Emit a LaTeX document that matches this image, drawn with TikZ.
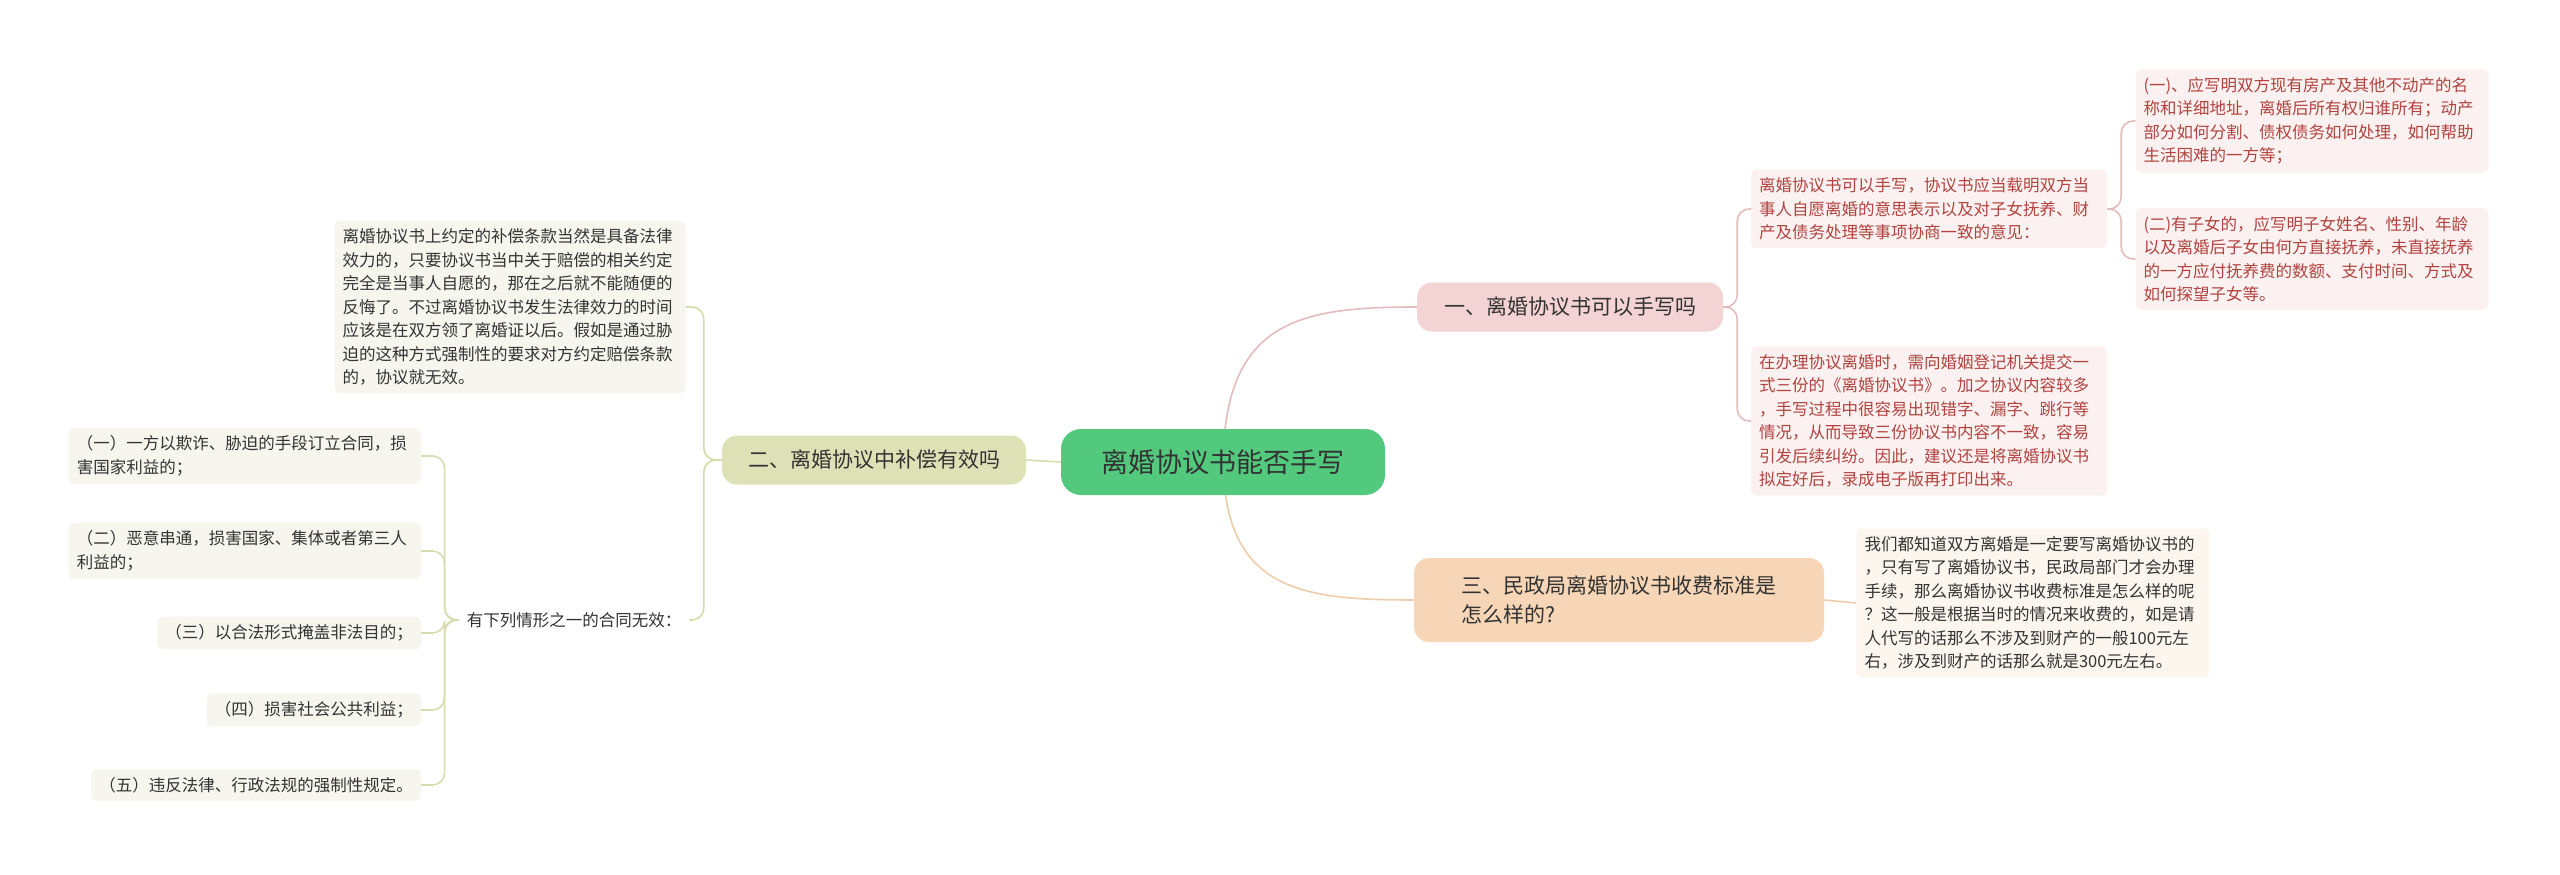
\documentclass[tikz,border=0pt]{standalone}
\usepackage{fontspec}
\setmainfont{Noto Sans CJK SC}
\usetikzlibrary{backgrounds}
\definecolor{cgreen}{HTML}{52C97D}
\definecolor{pinkf}{HTML}{F3D3D3}
\definecolor{pinkl}{HTML}{E3BDBD}
\definecolor{pinkleaf}{HTML}{FBF1F1}
\definecolor{redtxt}{HTML}{B2433F}
\definecolor{peachf}{HTML}{F6D6B6}
\definecolor{peachl}{HTML}{EFCDAA}
\definecolor{peachleaf}{HTML}{FCF6EF}
\definecolor{olivef}{HTML}{DDE2B6}
\definecolor{olivel}{HTML}{D6DCAE}
\definecolor{oliveleaf}{HTML}{F6F6EF}
\definecolor{txt}{HTML}{333333}
\begin{document}
\begin{tikzpicture}[x=1pt,y=-1pt,
  leaf/.style={rounded corners=6, align=left, inner sep=8, font=\fontsize{16.5}{23.5}\selectfont, text=txt},
  br/.style={rounded corners=15, align=left, inner xsep=14, inner ysep=8, font=\fontsize{21}{29}\selectfont, text=txt},
  conn/.style={line width=1.6pt},
  tree/.style={line width=1.6pt, rounded corners=12}]
\useasboundingbox (0,0) rectangle (2560,875);

\node[rounded corners=20, fill=cgreen, minimum width=324, minimum height=66, font=\fontsize{27}{32}\selectfont, text=txt] (c) at (1223,462) {离婚协议书能否手写};

\node[br, fill=pinkf, minimum width=306, minimum height=49] (b1) at (1570,307) {一、离婚协议书可以手写吗};
\node[br, fill=peachf, minimum width=410, minimum height=84] (b3) at (1619,600) {三、民政局离婚协议书收费标准是\\怎么样的?};
\node[br, fill=olivef, minimum width=304, minimum height=49] (b2) at (874,460) {二、离婚协议中补偿有效吗};

\node[leaf, fill=pinkleaf, text=redtxt, text width=340] (l1a) at (1929,209) {离婚协议书可以手写，协议书应当载明双方当\\事人自愿离婚的意思表示以及对子女抚养、财\\产及债务处理等事项协商一致的意见：};
\node[leaf, fill=pinkleaf, text=redtxt, text width=340] (l1b) at (1929,421) {在办理协议离婚时，需向婚姻登记机关提交一\\式三份的《离婚协议书》。加之协议内容较多\\，手写过程中很容易出现错字、漏字、跳行等\\情况，从而导致三份协议书内容不一致，容易\\引发后续纠纷。因此，建议还是将离婚协议书\\拟定好后，录成电子版再打印出来。};
\node[leaf, fill=pinkleaf, text=redtxt, text width=337] (l1a1) at (2312,121) {(一)、应写明双方现有房产及其他不动产的名\\称和详细地址，离婚后所有权归谁所有；动产\\部分如何分割、债权债务如何处理，如何帮助\\生活困难的一方等；};
\node[leaf, fill=pinkleaf, text=redtxt, text width=337] (l1a2) at (2312,259) {(二)有子女的，应写明子女姓名、性别、年龄\\以及离婚后子女由何方直接抚养，未直接抚养\\的一方应付抚养费的数额、支付时间、方式及\\如何探望子女等。};

\node[leaf, fill=peachleaf, text width=337] (l3) at (2033,603) {我们都知道双方离婚是一定要写离婚协议书的\\，只有写了离婚协议书，民政局部门才会办理\\手续，那么离婚协议书收费标准是怎么样的呢\\？这一般是根据当时的情况来收费的，如是请\\人代写的话那么不涉及到财产的一般100元左\\右，涉及到财产的话那么就是300元左右。};

\node[leaf, fill=oliveleaf, text width=335] (l2a) at (510,307) {离婚协议书上约定的补偿条款当然是具备法律\\效力的，只要协议书当中关于赔偿的相关约定\\完全是当事人自愿的，那在之后就不能随便的\\反悔了。不过离婚协议书发生法律效力的时间\\应该是在双方领了离婚证以后。假如是通过胁\\迫的这种方式强制性的要求对方约定赔偿条款\\的，协议就无效。};
\node[leaf] (l2b) at (574,620) {有下列情形之一的合同无效：};
\node[leaf, fill=oliveleaf, anchor=east, text width=336] (k1) at (421,456) {（一）一方以欺诈、胁迫的手段订立合同，损\\害国家利益的；};
\node[leaf, fill=oliveleaf, anchor=east, text width=336] (k2) at (421,551) {（二）恶意串通，损害国家、集体或者第三人\\利益的；};
\node[leaf, fill=oliveleaf, anchor=east] (k3) at (421,633) {（三）以合法形式掩盖非法目的；};
\node[leaf, fill=oliveleaf, anchor=east] (k4) at (421,710) {（四）损害社会公共利益；};
\node[leaf, fill=oliveleaf, anchor=east] (k5) at (421,785) {（五）违反法律、行政法规的强制性规定。};

\begin{scope}[on background layer]
\fill[white] (0,0) rectangle (2560,875);
\draw[conn, pinkl] (c.center) .. controls (1225,320) and (1300,307) .. (b1.west);
\draw[conn, peachl] (c.center) .. controls (1225,590) and (1300,600) .. (b3.west);
\draw[conn, olivel] (c.west) -- (b2.east);
\draw[tree, pinkl] (b1.east) -- ++(14,0) |- (l1a.west);
\draw[tree, pinkl] (b1.east) -- ++(14,0) |- (l1b.west);
\draw[tree, pinkl] (l1a.east) -- ++(14,0) |- (l1a1.west);
\draw[tree, pinkl] (l1a.east) -- ++(14,0) |- (l1a2.west);
\draw[conn, peachl] (b3.east) -- (l3.west);
\draw[tree, olivel] (b2.west) -- ++(-18,0) |- (l2a.east);
\draw[tree, olivel] (b2.west) -- ++(-18,0) |- (l2b.east);
\foreach \k in {k1,k2,k3,k4,k5}
  \draw[tree, olivel] (l2b.west) -- ++(-14,0) |- (\k.east);
\end{scope}
\end{tikzpicture}
\end{document}
